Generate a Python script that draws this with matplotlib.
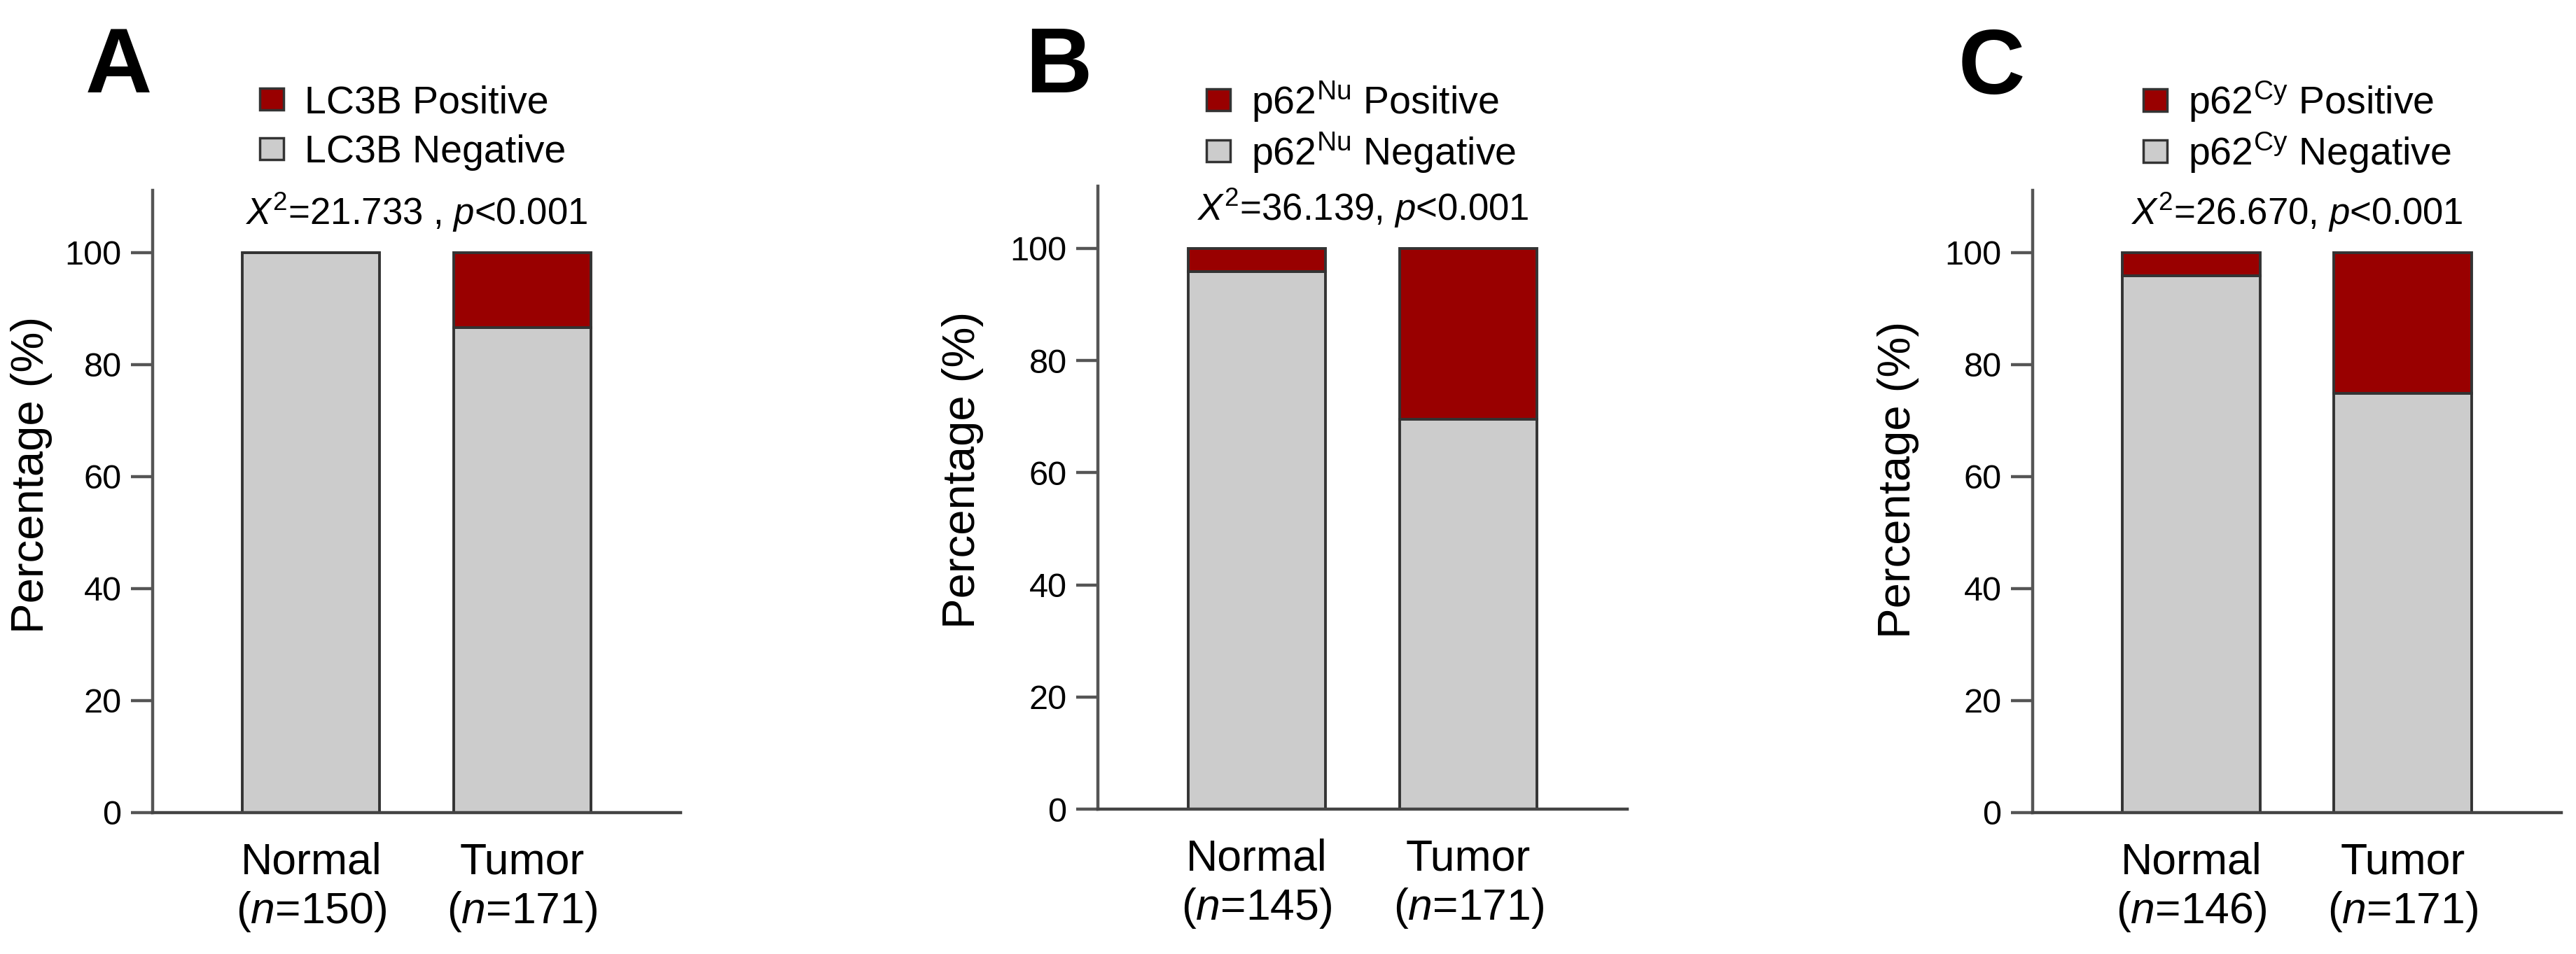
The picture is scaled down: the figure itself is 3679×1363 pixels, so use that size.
import matplotlib
matplotlib.use("Agg")
import matplotlib.pyplot as plt
from matplotlib import font_manager
from matplotlib.patches import Patch

# ---------------- data ----------------
groups = ["Normal", "Tumor"]

n_A = [150, 171]
neg_A = [100.0, 86.55]
pos_A = [0.0, 13.45]

n_B = [145, 171]
neg_B = [95.86, 69.59]
pos_B = [4.14, 30.41]

n_C = [146, 171]
neg_C = [95.89, 74.85]
pos_C = [4.11, 25.15]

markers = ["LC3B", r"$\mathregular{p62^{Nu}}$", r"$\mathregular{p62^{Cy}}$"]
stats = [r"$X^{2}$=21.733 , $p$<0.001",
         r"$X^{2}$=36.139, $p$<0.001",
         r"$X^{2}$=26.670, $p$<0.001"]
letters = ["A", "B", "C"]
yticks = [0, 20, 40, 60, 80, 100]

# ---------------- fonts ----------------
names = {f.name for f in font_manager.fontManager.ttflist}
REG = "Liberation Sans" if "Liberation Sans" in names else "DejaVu Sans"

plt.rcParams["font.family"] = [REG, "DejaVu Sans"]
plt.rcParams["mathtext.fontset"] = "custom"
plt.rcParams["mathtext.rm"] = REG
plt.rcParams["mathtext.it"] = REG + ":italic"
plt.rcParams["mathtext.bf"] = REG + ":bold"

RED = "#990000"
GRAY = "#cccccc"
EDGE = "#333333"
SPINE = "#555555"

W, H = 3680, 1363
fig = plt.figure(figsize=(W / 100, H / 100), dpi=100)

# axes boxes in pixels: left, right, bottom(y of 0), top
boxes = [(218, 972, 1161, 272), (1568, 2324, 1156, 266), (2903, 3658, 1161, 272)]
legend_xy = [(371, 121), (1723, 113), (3061, 113)]
legend_sp = [0.35, 0.17, 0.17]
letter_xy = [(122, 132), (1464, 132), (2797, 134)]
ylab_x = [-0.19, -0.215, -0.215]
ylab_y = [0.543, 0.545, 0.535]

data = [(n_A, neg_A, pos_A), (n_B, neg_B, pos_B), (n_C, neg_C, pos_C)]

for i, (box, (ns, neg, pos)) in enumerate(zip(boxes, data)):
    l, r, b, t = box
    ax = fig.add_axes([l / W, 1 - b / H, (r - l) / W, (b - t) / H])
    x = list(range(len(groups)))
    ax.bar(x, neg, width=0.65, color=GRAY, edgecolor=EDGE, linewidth=2.8, zorder=2)
    ax.bar(x, pos, bottom=neg, width=0.65, color=RED, edgecolor=EDGE, linewidth=2.8, zorder=2)
    ax.set_xlim(-0.75, 1.75)
    ax.set_ylim(0, 111.1)
    ax.set_yticks(yticks)
    ax.set_yticklabels([str(v) for v in yticks])
    ax.set_xticks(x)
    ax.set_xticklabels([f"{g}\n($n$={n})" for g, n in zip(groups, ns)])
    for s in ["top", "right"]:
        ax.spines[s].set_visible(False)
    ax.spines["left"].set_color(SPINE)
    ax.spines["left"].set_linewidth(3.2)
    ax.spines["bottom"].set_color("#444444")
    ax.spines["bottom"].set_linewidth(3.2)
    ax.tick_params(axis="y", length=22, width=3.2, color=SPINE, pad=10, labelsize=35)
    ax.tick_params(axis="x", length=0, pad=30, labelsize=45)
    ax.set_ylabel("Percentage (%)", fontsize=47)
    ax.yaxis.set_label_coords(ylab_x[i], ylab_y[i])
    ax.text(0.5, 105, stats[i], ha="center", va="baseline", fontsize=38)

    handles = [Patch(facecolor=RED, edgecolor=EDGE, linewidth=2.5),
               Patch(facecolor=GRAY, edgecolor=EDGE, linewidth=2.5)]
    labels = [markers[i] + " Positive", markers[i] + " Negative"]
    lx, ly = legend_xy[i]
    fig.legend(handles, labels, loc="upper left",
               bbox_to_anchor=(lx / W, 1 - ly / H), bbox_transform=fig.transFigure,
               frameon=False, fontsize=40, handlelength=0.61, handleheight=0.49,
               handletextpad=0.55, labelspacing=legend_sp[i], borderpad=0, borderaxespad=0)

    tx, ty = letter_xy[i]
    fig.text(tx / W, 1 - ty / H, letters[i], fontsize=95, fontweight="bold",
             ha="left", va="baseline")

fig.savefig("out.png", dpi=100)
